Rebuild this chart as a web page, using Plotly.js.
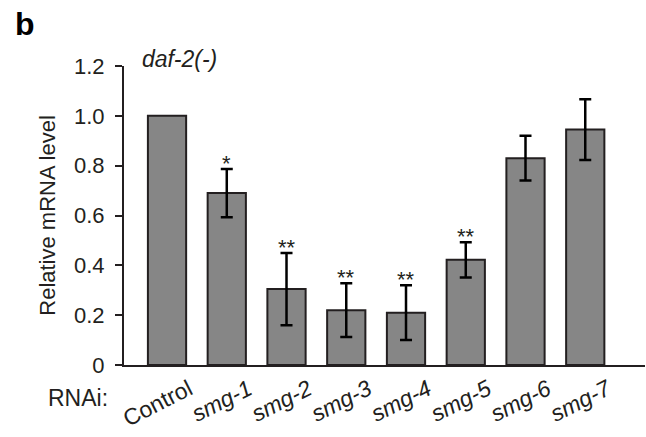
<!DOCTYPE html>
<html>
<head>
<meta charset="utf-8">
<script src="https://cdn.plot.ly/plotly-3.0.1.min.js"></script>
<style>html,body{margin:0;padding:0;background:#fff;}#chart{width:646px;height:437px;}</style>
</head>
<body>
<div id="chart"></div>
<script>
const categories = ["Control", "smg-1", "smg-2", "smg-3", "smg-4", "smg-5", "smg-6", "smg-7"];
const tickLabels = ["Control", "<i>smg-1</i>", "<i>smg-2</i>", "<i>smg-3</i>", "<i>smg-4</i>", "<i>smg-5</i>", "<i>smg-6</i>", "<i>smg-7</i>"];
const values = [1.0, 0.69, 0.305, 0.22, 0.21, 0.422, 0.83, 0.945];
const errors = [NaN, 0.097, 0.145, 0.108, 0.11, 0.071, 0.09, 0.122];
const significance = ["", "*", "**", "**", "**", "**", "", ""];
const yTicks = [0, 0.2, 0.4, 0.6, 0.8, 1.0, 1.2];
const yTickText = ["0", "0.2", "0.4", "0.6", "0.8", "1.0", "1.2"];

const FONT = "Arial, 'Liberation Sans', sans-serif";
const DARK = "#231f20";
const idx = categories.map((c, i) => i);

const trace = {
  type: "bar",
  x: idx,
  y: values,
  width: 0.64,
  marker: {color: "#868686", line: {color: DARK, width: 2}},
  error_y: {
    type: "data",
    array: errors,
    visible: true,
    color: "#000",
    thickness: 2.5,
    width: 6
  },
  hoverinfo: "skip"
};

const annotations = [];
idx.forEach(i => {
  if (significance[i]) {
    annotations.push({
      x: i, y: values[i] + (errors[i] || 0), xref: "x", yref: "y",
      text: significance[i], showarrow: false,
      xanchor: "center", yanchor: "bottom", yshift: -9,
      font: {family: FONT, size: 22, color: DARK}
    });
  }
});
annotations.push({
  x: -0.088, y: -0.11, xref: "paper", yref: "paper",
  text: "RNAi:", showarrow: false, xanchor: "center", yanchor: "middle",
  font: {family: FONT, size: 23, color: DARK}
});
annotations.push({
  x: -0.19, y: 1.14, xref: "paper", yref: "paper",
  text: "<b>b</b>", showarrow: false, xanchor: "center", yanchor: "middle",
  font: {family: FONT, size: 32, color: "#000"}
});

const layout = {
  width: 646, height: 437,
  margin: {l: 124, r: 1, t: 66, b: 72, pad: 0},
  paper_bgcolor: "#fff", plot_bgcolor: "#fff",
  showlegend: false,
  title: {
    text: "<i>daf-2(-)</i>",
    x: 0.278, xref: "container", xanchor: "center",
    y: 0.866, yref: "container", yanchor: "middle",
    font: {family: FONT, size: 23, color: DARK}
  },
  xaxis: {
    range: [-0.72, 8.0],
    tickmode: "array", tickvals: idx, ticktext: tickLabels,
    tickangle: -27, ticks: "", ticklabelshift: 22, ticklabelstandoff: 0,
    showline: true, linecolor: DARK, linewidth: 2,
    showgrid: false, zeroline: false, fixedrange: true,
    tickfont: {family: FONT, size: 23, color: DARK}
  },
  yaxis: {
    range: [0, 1.2],
    tickmode: "array", tickvals: yTicks, ticktext: yTickText,
    ticks: "outside", ticklen: 7, tickwidth: 2, tickcolor: DARK, ticklabelstandoff: 6,
    showline: true, linecolor: DARK, linewidth: 2,
    showgrid: false, zeroline: false, fixedrange: true,
    tickfont: {family: FONT, size: 22, color: DARK},
    title: {text: "Relative mRNA level", standoff: 12, font: {family: FONT, size: 22, color: DARK}}
  },
  annotations: annotations,
  bargap: 0.36
};

Plotly.newPlot("chart", [trace], layout, {displayModeBar: false, staticPlot: true});
</script>
</body>
</html>
